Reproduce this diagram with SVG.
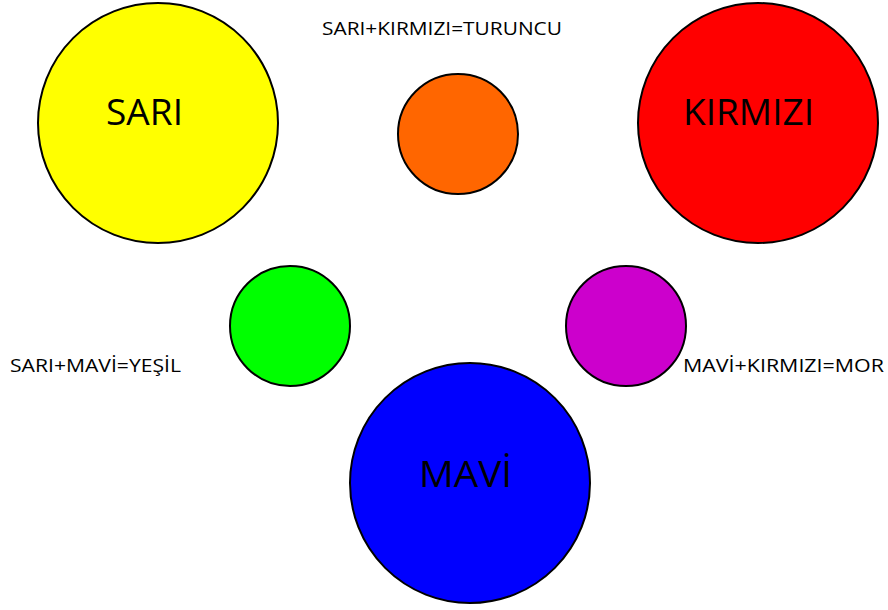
<svg xmlns="http://www.w3.org/2000/svg" width="888" height="610" viewBox="0 0 888 610">
<style>
circle{stroke:#000;stroke-width:2}
.big{font-family:"Open Sans","Liberation Sans",sans-serif;font-size:36px;fill:#000}
.lbl{font-family:"Open Sans","Liberation Sans",sans-serif;font-size:18px;fill:#000}
</style>
<rect width="888" height="610" fill="#fff"/>
<g id="sari"><circle cx="158" cy="123" r="120" fill="#ffff00"/><text class="big" x="106" y="125" textLength="77" lengthAdjust="spacingAndGlyphs">SARI</text></g>
<g id="turuncu"><circle cx="458" cy="134" r="60" fill="#ff6600"/></g>
<g id="kirmizi"><circle cx="758" cy="123" r="120" fill="#ff0000"/><text class="big" x="683" y="125" textLength="131" lengthAdjust="spacingAndGlyphs">KIRMIZI</text></g>
<g id="yesil"><circle cx="290" cy="326" r="60" fill="#00ff00"/></g>
<g id="mor"><circle cx="626" cy="326" r="60" fill="#cc00cc"/></g>
<g id="mavi"><circle cx="470" cy="483" r="120" fill="#0000ff"/><text class="big" x="419" y="487" textLength="93" lengthAdjust="spacingAndGlyphs">MAVİ</text></g>
<g id="labels">
<text class="lbl" x="322" y="35" textLength="240" lengthAdjust="spacingAndGlyphs">SARI+KIRMIZI=TURUNCU</text>
<text class="lbl" x="10" y="372" textLength="171" lengthAdjust="spacingAndGlyphs">SARI+MAVİ=YEŞİL</text>
<text class="lbl" x="683" y="372" textLength="201" lengthAdjust="spacingAndGlyphs">MAVİ+KIRMIZI=MOR</text>
</g>
<g id="connectors"/>
</svg>
